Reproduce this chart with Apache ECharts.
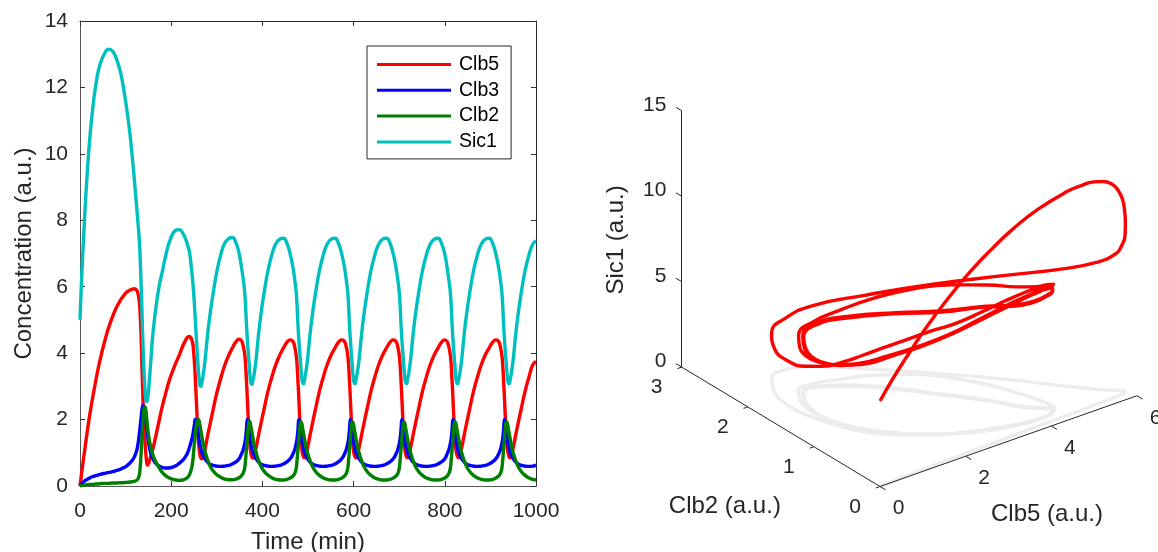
<!DOCTYPE html>
<html><head><meta charset="utf-8">
<style>html,body{margin:0;padding:0;background:#fff}#c{width:1158px;height:552px}</style>
<script src="https://cdn.jsdelivr.net/npm/echarts@6/dist/echarts.min.js"></script>
</head><body><div id="c"></div>
<script>
const time = [
0,3,6,11,16,22,29,35,44,57,64,72,79,88,94,102,110,115,119,124,127,130,132,134,136,138,140,142,144,146,148,150,152,156,159,163,167,174,180,189,198,210,218,225,232,236,240,244,247,249,251,253,255,257,
259,261,263,265,267,270,274,279,285,292,300,309,317,326,334,342,349,354,358,361,363,365,367,369,
371,373,375,377,379,382,386,391,397,404,412,421,429,438,446,454,461,467,471,474,476,478,480,482,
484,486,488,490,492,495,499,504,510,517,525,534,542,551,559,567,574,580,584,587,589,591,593,595,
597,599,601,603,605,608,612,617,623,630,638,647,655,664,672,680,687,693,697,700,702,704,706,708,
710,712,714,716,718,721,725,730,736,743,751,760,768,777,785,793,800,805,809,812,814,816,818,820,
822,824,826,828,830,833,837,842,848,855,863,872,880,889,897,905,912,918,922,925,927,929,931,933,
935,937,939,941,943,946,950,955,961,968,976,985,993,1000];
const clb5 = [
0,.33,.65,1.15,1.65,2.2,2.75,3.2,3.8,4.5,4.82,5.12,5.35,5.58,5.7,5.83,5.9,5.93,5.94,5.9,5.8,5.56,5.15,4.5,3.55,2.65,1.95,1.45,1.05,.75,.63,.66,.75,.93,1.08,1.3,1.55,2.0,2.37,2.85,3.27,3.7,3.95,4.2,4.4,4.48,4.5,4.44,4.3,4.08,3.7,3.2,2.62,2.03,
1.5,1.14,.95,.85,.82,.9,1.1,1.45,1.85,2.3,2.8,3.26,3.62,3.93,4.15,4.34,4.42,4.38,4.21,3.98,3.68,3.18,2.63,2.03,
1.52,1.16,.97,.87,.84,.94,1.14,1.49,1.89,2.34,2.84,3.29,3.64,3.94,4.15,4.33,4.4,4.35,4.18,3.95,3.65,3.15,2.6,2.0,
1.5,1.15,.97,.88,.85,.95,1.15,1.5,1.9,2.35,2.85,3.3,3.65,3.95,4.15,4.33,4.4,4.35,4.18,3.95,3.65,3.15,2.6,2.0,
1.5,1.15,.97,.88,.85,.95,1.15,1.5,1.9,2.35,2.85,3.3,3.65,3.95,4.15,4.33,4.4,4.35,4.18,3.95,3.65,3.15,2.6,2.0,
1.5,1.15,.97,.88,.85,.95,1.15,1.5,1.9,2.35,2.85,3.3,3.65,3.95,4.15,4.33,4.4,4.35,4.18,3.95,3.65,3.15,2.6,2.0,
1.5,1.15,.97,.88,.85,.95,1.15,1.5,1.9,2.35,2.85,3.3,3.65,3.95,4.15,4.33,4.4,4.35,4.18,3.95,3.65,3.15,2.6,2.0,
1.5,1.15,.97,.88,.85,.95,1.15,1.5,1.9,2.35,2.85,3.3,3.65,3.75];
const clb3 = [
0,.05,.1,.16,.2,.25,.29,.31,.35,.39,.41,.43,.46,.5,.54,.6,.7,.78,.87,1.05,1.25,1.55,1.8,2.05,2.3,2.42,2.4,2.2,2.0,1.78,1.55,1.35,1.18,.95,.84,.74,.67,.6,.56,.54,.55,.61,.69,.77,.9,1.0,1.16,1.35,1.52,1.68,1.85,2.0,1.98,1.82,
1.65,1.4,1.25,1.12,1.02,.92,.82,.73,.66,.62,.6,.59,.6,.62,.66,.73,.82,.96,1.1,1.27,1.42,1.7,2.0,1.9,
1.65,1.4,1.25,1.12,1.02,.92,.82,.73,.66,.62,.6,.59,.6,.62,.66,.73,.82,.96,1.1,1.27,1.42,1.7,2.0,1.9,
1.65,1.4,1.25,1.12,1.02,.92,.82,.73,.66,.62,.6,.59,.6,.62,.66,.73,.82,.96,1.1,1.27,1.42,1.7,2.0,1.9,
1.65,1.4,1.25,1.12,1.02,.92,.82,.73,.66,.62,.6,.59,.6,.62,.66,.73,.82,.96,1.1,1.27,1.42,1.7,2.0,1.9,
1.65,1.4,1.25,1.12,1.02,.92,.82,.73,.66,.62,.6,.59,.6,.62,.66,.73,.82,.96,1.1,1.27,1.42,1.7,2.0,1.9,
1.65,1.4,1.25,1.12,1.02,.92,.82,.73,.66,.62,.6,.59,.6,.62,.66,.73,.82,.96,1.1,1.27,1.42,1.7,2.0,1.9,
1.65,1.4,1.25,1.12,1.02,.92,.82,.73,.66,.62,.6,.59,.6,.63];
const clb2 = [
0,.01,.02,.03,.04,.05,.05,.06,.07,.08,.08,.09,.09,.1,.1,.11,.12,.13,.14,.17,.21,.33,.57,.98,1.5,1.95,2.28,2.38,2.32,2.08,1.78,1.56,1.38,1.12,.97,.83,.71,.54,.42,.3,.23,.18,.17,.18,.22,.26,.34,.5,.72,1.0,1.32,1.6,1.8,1.92,
2.0,1.97,1.83,1.68,1.52,1.29,1.06,.82,.61,.45,.34,.26,.21,.19,.19,.21,.25,.31,.39,.53,.78,1.11,1.47,1.78,
1.95,1.92,1.77,1.62,1.47,1.24,1.02,.79,.59,.44,.33,.25,.2,.18,.18,.2,.24,.3,.38,.52,.78,1.1,1.46,1.76,
1.93,1.9,1.75,1.6,1.45,1.22,1.0,.78,.58,.43,.32,.24,.2,.18,.18,.2,.24,.3,.38,.52,.78,1.1,1.46,1.76,
1.93,1.9,1.75,1.6,1.45,1.22,1.0,.78,.58,.43,.32,.24,.2,.18,.18,.2,.24,.3,.38,.52,.78,1.1,1.46,1.76,
1.93,1.9,1.75,1.6,1.45,1.22,1.0,.78,.58,.43,.32,.24,.2,.18,.18,.2,.24,.3,.38,.52,.78,1.1,1.46,1.76,
1.93,1.9,1.75,1.6,1.45,1.22,1.0,.78,.58,.43,.32,.24,.2,.18,.18,.2,.24,.3,.38,.52,.78,1.1,1.46,1.76,
1.93,1.9,1.75,1.6,1.45,1.22,1.0,.78,.58,.43,.32,.24,.2,.18];
const sic1 = [
5,6.05,6.95,8.3,9.45,10.55,11.5,12.1,12.7,13.1,13.15,13.08,12.9,12.5,12.1,11.4,10.55,9.85,9.25,8.45,7.95,7.42,6.85,6.1,5.2,4.3,3.55,3.0,2.67,2.54,2.6,2.82,3.15,3.9,4.45,4.98,5.42,6.05,6.42,7.0,7.42,7.7,7.72,7.62,7.42,7.25,7.05,6.6,6.2,5.85,5.45,4.98,4.5,4.05,
3.62,3.26,3.03,3.0,3.1,3.32,3.75,4.45,5.15,5.8,6.45,6.98,7.3,7.45,7.48,7.32,7.0,6.6,6.22,5.87,5.47,4.88,4.42,4.02,
3.67,3.3,3.1,3.06,3.16,3.38,3.79,4.49,5.19,5.84,6.47,6.98,7.28,7.43,7.46,7.3,6.98,6.58,6.2,5.85,5.45,4.85,4.4,4.0,
3.65,3.3,3.12,3.08,3.18,3.4,3.8,4.5,5.2,5.85,6.48,6.98,7.28,7.43,7.46,7.3,6.98,6.58,6.2,5.85,5.45,4.85,4.4,4.0,
3.65,3.3,3.12,3.08,3.18,3.4,3.8,4.5,5.2,5.85,6.48,6.98,7.28,7.43,7.46,7.3,6.98,6.58,6.2,5.85,5.45,4.85,4.4,4.0,
3.65,3.3,3.12,3.08,3.18,3.4,3.8,4.5,5.2,5.85,6.48,6.98,7.28,7.43,7.46,7.3,6.98,6.58,6.2,5.85,5.45,4.85,4.4,4.0,
3.65,3.3,3.12,3.08,3.18,3.4,3.8,4.5,5.2,5.85,6.48,6.98,7.28,7.43,7.46,7.3,6.98,6.58,6.2,5.85,5.45,4.85,4.4,4.0,
3.65,3.3,3.12,3.08,3.18,3.4,3.8,4.5,5.2,5.85,6.48,6.98,7.28,7.38];
const seriesNames = ['Clb5','Clb3','Clb2','Sic1'];
const seriesColors = ['#ff0000','#0000ff','#008000','#00bfbf'];
const clb5Ticks = [0,2,4,6];
const clb2Ticks = [0,1,2,3];
const sic1Ticks = [0,5,10,15];
const textColor = '#262626', font = 'Liberation Sans';

[clb5,clb3,clb2,sic1].forEach((a,i)=>{ if(a.length!==time.length) console.error('length',i,a.length,time.length); });

// Orthographic view of the 3-D axes
const proj = (a,b,s) => [42.83*a-66.1*b, 15.13*a+39.8*b+17.09*s];
const pts = (arr)=>time.map((t,i)=>[t,arr[i]]);
const tsSeries = [clb5,clb3,clb2,sic1].map((arr,i)=>({
  name:seriesNames[i], type:'line', data:pts(arr), xAxisIndex:0, yAxisIndex:0, showSymbol:false, symbol:'none',
  smooth:0.5, lineStyle:{color:seriesColors[i],width:3.4}, itemStyle:{color:seriesColors[i]}, silent:true, z:3+i, animation:false
}));
const seg = [];
const addSeg = (p,q)=>seg.push({coords:[proj(...p),proj(...q)]});
addSeg([0,0,0],[6,0,0]); addSeg([0,0,0],[0,3,0]); addSeg([0,3,0],[0,3,15]);
clb5Ticks.forEach(v=>addSeg([v,0,0],[v,-0.085,0]));
clb2Ticks.forEach(v=>addSeg([0,v,0],[-0.1,v,0]));
sic1Ticks.forEach(v=>addSeg([0,3,v],[0,3.085,v]));
const labelSeries = (name,data,rot)=>({
  type:'scatter', name, xAxisIndex:2, yAxisIndex:2, symbolSize:1, itemStyle:{color:'transparent',opacity:1}, silent:true, animation:false, z:8,
  data, label:{show:true, position:'inside', color:textColor, opacity:1, fontFamily:font, formatter:p=>p.data.t, rotate:rot||0}
});
const tl = (pos,t,ox,oy,fs)=>({value:proj(...pos),t,label:{offset:[ox,oy],fontSize:fs}});
const tickFS=21, nameFS=24;
const option = {
  animation:false, backgroundColor:'#fff',
  grid:[{left:80,top:21,width:456,height:465,show:false,outerBoundsMode:'none'},{left:600,top:80,width:558,height:430,show:false,outerBoundsMode:'none'}],
  legend:{data:seriesNames,orient:'vertical',left:367,top:46,padding:[8.5,12,7,10],itemGap:5.8,itemWidth:74,itemHeight:3,icon:'rect',
    borderColor:textColor,borderWidth:1,backgroundColor:'#fff',selectedMode:false,textStyle:{fontFamily:font,fontSize:19.5,color:'#000',padding:[0,0,0,3]},z:20},
  xAxis:[
    {type:'value',gridIndex:0,min:0,max:1000,interval:200,position:'bottom',name:'Time (min)',nameLocation:'middle',nameGap:44,
     nameTextStyle:{fontFamily:font,fontSize:nameFS,color:textColor},
     axisLine:{show:true,lineStyle:{color:'#555',width:1}},axisTick:{inside:true,length:5,lineStyle:{color:'#333'}},
     axisLabel:{fontFamily:font,fontSize:tickFS,color:textColor,margin:15,formatter:v=>String(v),hideOverlap:false,showMinLabel:true,showMaxLabel:true},splitLine:{show:false}},
    {type:'value',gridIndex:0,min:0,max:1000,interval:200,position:'top',axisLine:{show:true,onZero:false,lineStyle:{color:textColor,width:1}},axisTick:{inside:true,length:5,lineStyle:{color:'#333'}},axisLabel:{show:false},splitLine:{show:false}},
    {type:'value',gridIndex:1,min:-280,max:278,show:false}
  ],
  yAxis:[
    {type:'value',gridIndex:0,min:0,max:14,interval:2,position:'left',name:'Concentration (a.u.)',nameLocation:'middle',nameGap:44,
     nameTextStyle:{fontFamily:font,fontSize:nameFS,color:textColor},
     axisLine:{show:true,lineStyle:{color:'#555',width:1}},axisTick:{inside:true,length:5,lineStyle:{color:'#333'}},
     axisLabel:{fontFamily:font,fontSize:tickFS,color:textColor,margin:12,showMinLabel:true,showMaxLabel:true},splitLine:{show:false}},
    {type:'value',gridIndex:0,min:0,max:14,interval:2,position:'right',axisLine:{show:true,onZero:false,lineStyle:{color:textColor,width:1}},axisTick:{inside:true,length:5,lineStyle:{color:'#333'}},axisLabel:{show:false},splitLine:{show:false}},
    {type:'value',gridIndex:1,min:-23.5,max:406.5,show:false}
  ],
  series:[
    ...tsSeries,
    {type:'line',name:'shadow',xAxisIndex:2,yAxisIndex:2,data:time.map((t,i)=>proj(clb5[i],clb2[i],0)),symbol:'none',smooth:0.5,silent:true,animation:false,clip:false,
      lineStyle:{color:'#ececec',width:3.4},z:2},
    {type:'lines',coordinateSystem:'cartesian2d',xAxisIndex:2,yAxisIndex:2,data:seg,silent:true,animation:false,polyline:false,lineStyle:{color:textColor,width:1,opacity:1},z:3},
    {type:'line',name:'trajectory',xAxisIndex:2,yAxisIndex:2,data:time.map((t,i)=>proj(clb5[i],clb2[i],sic1[i])),symbol:'none',smooth:0.5,silent:true,animation:false,clip:false,
      lineStyle:{color:'#ff0000',width:3.4},z:5},
    labelSeries('t5',clb5Ticks.map(v=>tl([v,0,0],String(v),18.5,22,tickFS))),
    labelSeries('t2',clb2Ticks.map(v=>tl([0,v,0],String(v),-25,20.5,tickFS))),
    labelSeries('ts',sic1Ticks.map(v=>tl([0,3,v],String(v),v>=10?-27:-21,-5.5,tickFS))),
    labelSeries('n5',[tl([3,0,0],'Clb5 (a.u.)',38.5,73,nameFS)]),
    labelSeries('n2',[tl([0,1.5,0],'Clb2 (a.u.)',-56,80,nameFS)]),
    labelSeries('ns',[tl([0,3,7.5],'Sic1 (a.u.)',-1,-65,nameFS)],90)
  ]
};
const chart = echarts.init(document.getElementById('c'),null,{renderer:'canvas'});
chart.setOption(option);
</script></body></html>
